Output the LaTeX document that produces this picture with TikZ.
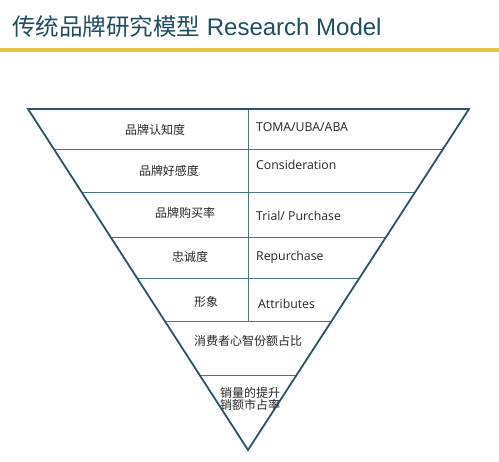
\documentclass[tikz,border=0pt]{standalone}
\usepackage{fontspec}
\setmainfont{Open Sans}
\newfontfamily\cjk{Noto Sans CJK SC}
\newfontfamily\titlelat{Liberation Sans}
\usetikzlibrary{calc}
\definecolor{titlecol}{HTML}{1F4E5F}
\definecolor{gold}{HTML}{E3C44A}
\definecolor{edgecol}{HTML}{2A5566}
\definecolor{linecol}{HTML}{4D7482}
\definecolor{txt}{HTML}{262626}
\tikzset{
  cn/.style={font=\cjk\fontsize{12}{14}\selectfont, text=txt, inner sep=0pt},
  en/.style={font=\fontsize{12.3}{14}\selectfont, text=txt, inner sep=0pt, anchor=west},
  sep/.style={draw=linecol, line width=1pt},
}
\begin{document}
\begin{tikzpicture}[x=1pt,y=-1pt]
\useasboundingbox (0,0) rectangle (499,462);
\fill[white] (0,0) rectangle (499,462);
% title
\node[anchor=base west, inner sep=0pt, text=titlecol] (title) at (12,36)
  {{\cjk\fontsize{23.5}{26}\selectfont 传统品牌研究模型}{\titlelat\fontsize{24}{26}\selectfont\ Research Model}};
\draw[gold, line width=4pt] (0,50) coordinate (gl) -- (499,50) coordinate (gr);
% triangle corners
\coordinate (TL) at (28,109);
\coordinate (TR) at (469,109);
\coordinate (A) at (248,450);
% separators
\foreach \t/\n in {0.1202/1,0.2463/2,0.3754/3,0.4985/4,0.6246/5,0.7801/6}{
  \draw[sep] ($(TL)!\t!(A)$) coordinate (L\n) -- ($(TR)!\t!(A)$) coordinate (R\n);
}
\coordinate (VT) at (248,109);
\coordinate (VB) at (248,322);
\draw[sep] (VT) -- (VB);
\draw[draw=edgecol, line width=1.8pt, line join=miter] (TL) -- (TR) -- (A) -- cycle;
% labels
\node[cn] (c1) at (155,130) {品牌认知度};
\node[cn] (c2) at (169,171) {品牌好感度};
\node[cn] (c3) at (185,213) {品牌购买率};
\node[cn] (c4) at (190,257) {忠诚度};
\node[cn] (c5) at (206,302) {形象};
\node[cn] (c6) at (248,341) {消费者心智份额占比};
\node[cn, align=center, font=\cjk\fontsize{12}{12.5}\selectfont] (c7) at (250,399) {销量的提升\\销额市占率};
\node[en] (e1) at (256,127) {TOMA/UBA/ABA};
\node[en] (e2) at (256,165) {Consideration};
\node[en] (e3) at (256,216) {Trial/ Purchase};
\node[en] (e4) at (256,257) {Repurchase};
\node[en] (e5) at (258,304) {Attributes};
\end{tikzpicture}
\end{document}
